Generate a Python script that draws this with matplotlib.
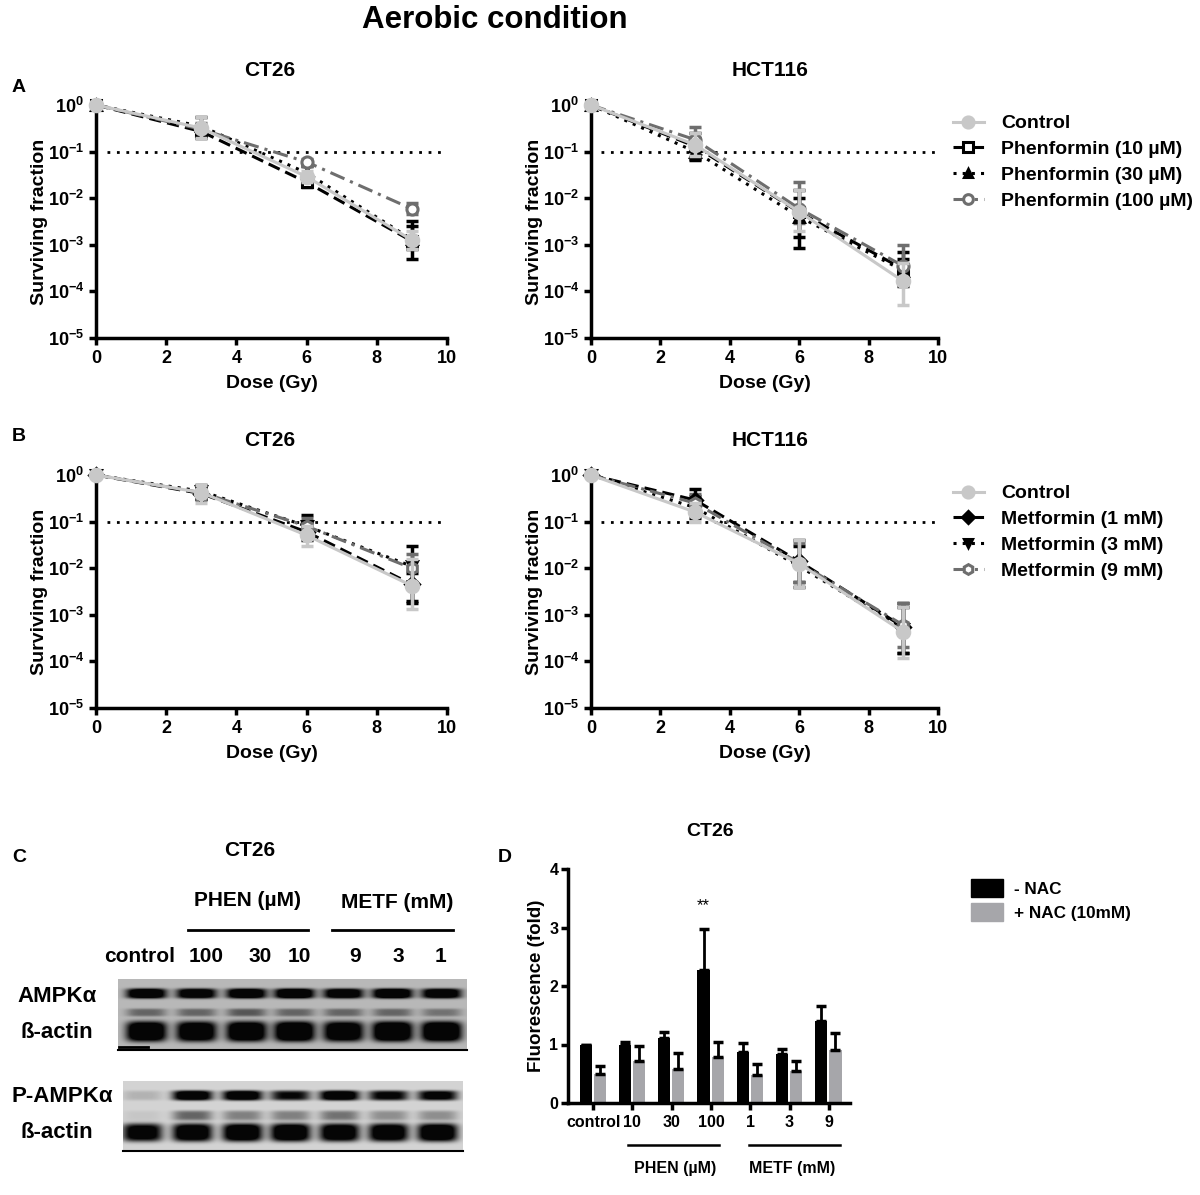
import numpy as np
import matplotlib
matplotlib.use("Agg")
import matplotlib.pyplot as plt
from matplotlib.lines import Line2D
from matplotlib.patches import Patch

plt.rcParams["font.family"] = ["Liberation Sans", "DejaVu Sans"]
plt.rcParams["font.weight"] = "bold"
plt.rcParams["axes.labelweight"] = "bold"
plt.rcParams["mathtext.fontset"] = "custom"
plt.rcParams["mathtext.rm"] = "Liberation Sans:bold"
plt.rcParams["mathtext.bf"] = "Liberation Sans:bold"
plt.rcParams["mathtext.default"] = "rm"

DOSE = [0, 3, 6, 9]

# surviving fraction: rows = control, 10, 30, 100 uM phenformin
CT26_PHEN_SF = [[1, 0.32, 0.029, 1.26e-3], [1, 0.27, 0.022, 1.2e-3],
                [1, 0.35, 0.035, 1.3e-3], [1, 0.30, 0.060, 5.9e-3]]
CT26_PHEN_LO = [[1, 0.20, 0.022, 8e-4], [1, 0.20, 0.017, 5e-4],
                [1, 0.25, 0.025, 8e-4], [1, 0.22, 0.050, 4.5e-3]]
CT26_PHEN_HI = [[1, 0.55, 0.038, 2e-3], [1, 0.35, 0.030, 3.2e-3],
                [1, 0.55, 0.050, 2.5e-3], [1, 0.42, 0.070, 8e-3]]

HCT_PHEN_SF = [[1, 0.14, 5.1e-3, 1.65e-4], [1, 0.13, 5e-3, 3.0e-4],
               [1, 0.10, 4e-3, 2.8e-4], [1, 0.18, 6e-3, 3.5e-4]]
HCT_PHEN_LO = [[1, 0.08, 2e-3, 5e-5], [1, 0.065, 8.5e-4, 1.3e-4],
               [1, 0.07, 1.5e-3, 1.5e-4], [1, 0.10, 3e-3, 2e-4]]
HCT_PHEN_HI = [[1, 0.25, 0.015, 4e-4], [1, 0.25, 0.015, 7e-4],
               [1, 0.20, 0.010, 5e-4], [1, 0.33, 0.022, 1e-3]]

# rows = control, 1, 3, 9 mM metformin
CT26_METF_SF = [[1, 0.42, 0.051, 4.2e-3], [1, 0.40, 0.060, 4.5e-3],
                [1, 0.45, 0.080, 0.011], [1, 0.42, 0.080, 0.010]]
CT26_METF_LO = [[1, 0.25, 0.030, 1.3e-3], [1, 0.30, 0.040, 2e-3],
                [1, 0.30, 0.050, 1.8e-3], [1, 0.30, 0.050, 5e-3]]
CT26_METF_HI = [[1, 0.60, 0.080, 0.016], [1, 0.55, 0.100, 8e-3],
                [1, 0.60, 0.140, 0.030], [1, 0.55, 0.120, 0.020]]

HCT_METF_SF = [[1, 0.16, 0.0126, 4.3e-4], [1, 0.29, 0.014, 5.5e-4],
               [1, 0.20, 0.011, 5e-4], [1, 0.25, 0.013, 6e-4]]
HCT_METF_LO = [[1, 0.10, 4e-3, 1.2e-4], [1, 0.15, 5e-3, 1.5e-4],
               [1, 0.12, 4e-3, 1.5e-4], [1, 0.15, 5e-3, 2e-4]]
HCT_METF_HI = [[1, 0.25, 0.040, 1.5e-3], [1, 0.50, 0.040, 1.8e-3],
               [1, 0.35, 0.030, 1.5e-3], [1, 0.40, 0.035, 1.8e-3]]

PHEN_LABELS = ["Control", "Phenformin (10 µM)", "Phenformin (30 µM)", "Phenformin (100 µM)"]
METF_LABELS = ["Control", "Metformin (1 mM)", "Metformin (3 mM)", "Metformin (9 mM)"]

# panel D
D_GROUPS = ["control", "10", "30", "100", "1", "3", "9"]
D_NO_NAC = [1.00, 0.99, 1.11, 2.27, 0.88, 0.84, 1.40]
D_NO_NAC_ERR = [0.00, 0.06, 0.11, 0.70, 0.15, 0.09, 0.25]
D_NAC = [0.49, 0.71, 0.58, 0.79, 0.48, 0.54, 0.90]
D_NAC_ERR = [0.15, 0.26, 0.27, 0.26, 0.19, 0.18, 0.30]

# panel C: lane labels and band intensities (0..1)
C_LANES = ["control", "100", "30", "10", "9", "3", "1"]
AMPK_BAND = [0.95, 0.90, 0.95, 1.00, 0.90, 1.00, 0.90]
AMPK_FAINT = [0.30, 0.30, 0.35, 0.30, 0.30, 0.30, 0.25]
ACTIN_1 = [1.00, 0.95, 1.00, 1.05, 0.95, 1.05, 1.05]
PAMPK_BAND = [0.12, 1.00, 1.00, 0.75, 1.00, 0.80, 0.85]
PAMPK_FAINT = [0.05, 0.40, 0.30, 0.30, 0.35, 0.25, 0.25]
ACTIN_2 = [0.90, 1.00, 1.05, 1.05, 1.00, 1.00, 1.05]

W, H = 1200, 1195
fig = plt.figure(figsize=(12, 11.95), dpi=100)


def fbox(left, top, right, bottom):
    return [left / W, 1 - bottom / H, (right - left) / W, (bottom - top) / H]


def ftext(x, y, s, **kw):
    fig.text(x / W, 1 - y / H, s, **kw)


STYLES = [
    dict(color="#c8c8c8", ls="-", marker="o", mfc="#c8c8c8", mec="#c8c8c8", ms=9),
    dict(color="black", ls=(0, (4, 2)), marker="s", mfc="white", mec="black", ms=7.5),
    dict(color="black", ls=(0, (1, 2)), marker="^", mfc="black", mec="black", ms=7),
    dict(color="#6e6e6e", ls=(0, (5, 2, 1, 2)), marker="o", mfc="white", mec="#6e6e6e", ms=8),
]
METF_MARKERS = ["o", "D", "v", "h"]


def series_style(i, markers):
    st = dict(STYLES[i])
    if markers is not None:
        st["marker"] = markers[i]
        if i == 1:
            st["mfc"] = "black"
    return st


def survival_axes(box, sf, lo, hi, markers=None):
    ax = fig.add_axes(box)
    ax.set_yscale("log")
    for i in [1, 2, 3, 0]:
        st = series_style(i, markers)
        y = np.array(sf[i])
        err = [y - np.array(lo[i]), np.array(hi[i]) - y]
        ax.errorbar(DOSE, y, yerr=err, fmt="none", ecolor=st["color"],
                    elinewidth=2.5, capsize=4, capthick=2.5, zorder=3 + (i == 0), clip_on=False)
        ax.plot(DOSE, y, color=st["color"], ls=st["ls"], lw=2.2, marker=st["marker"],
                mfc=st["mfc"], mec=st["mec"], mew=2.2, ms=st["ms"],
                zorder=4 + (i == 0), clip_on=False)
    ax.hlines(0.1, 0.3, 10, colors="black", linestyles=(0, (1, 2.4)), lw=2)
    ax.set_xlim(0, 10)
    ax.set_ylim(1e-5, 1)
    ax.set_xticks([0, 2, 4, 6, 8, 10])
    ticks = [1e-5, 1e-4, 1e-3, 1e-2, 1e-1, 1]
    ax.set_yticks(ticks)
    ax.set_yticklabels([r"$10^{%d}$" % int(np.log10(t)) for t in ticks])
    ax.minorticks_off()
    for side in ["top", "right"]:
        ax.spines[side].set_visible(False)
    for side in ["left", "bottom"]:
        ax.spines[side].set_linewidth(2.5)
    ax.tick_params(width=2.5, length=5, labelsize=13)
    ax.set_xlabel("Dose (Gy)", fontsize=14, labelpad=6)
    ax.set_ylabel("Surviving fraction", fontsize=14, labelpad=0)
    return ax


def survival_legend(labels, y0, markers=None):
    handles = []
    for i in range(4):
        st = series_style(i, markers)
        handles.append(Line2D([0], [0], color=st["color"], ls=st["ls"], lw=2.2,
                              marker=st["marker"], mfc=st["mfc"], mec=st["mec"],
                              mew=2.2, ms=st["ms"] - 1))
    fig.legend(handles, labels, loc="upper left", bbox_to_anchor=(945 / W, 1 - y0 / H),
               frameon=False, fontsize=14, handlelength=1.6, handletextpad=0.9,
               labelspacing=0.42, borderaxespad=0)


# title and panel A / B
ftext(495, 20, "Aerobic condition", fontsize=22.5, ha="center", va="center")
ftext(12, 88, "A", fontsize=14, ha="left", va="center")
ftext(12, 437, "B", fontsize=14, ha="left", va="center")
ftext(270, 70, "CT26", fontsize=15, ha="center", va="center")
ftext(770, 70, "HCT116", fontsize=15, ha="center", va="center")
ftext(270, 440, "CT26", fontsize=15, ha="center", va="center")
ftext(770, 440, "HCT116", fontsize=15, ha="center", va="center")

survival_axes(fbox(96, 105, 447, 338), CT26_PHEN_SF, CT26_PHEN_LO, CT26_PHEN_HI)
survival_axes(fbox(591, 105, 938, 338), HCT_PHEN_SF, HCT_PHEN_LO, HCT_PHEN_HI)
survival_axes(fbox(96, 475, 447, 708), CT26_METF_SF, CT26_METF_LO, CT26_METF_HI, METF_MARKERS)
survival_axes(fbox(591, 475, 938, 708), HCT_METF_SF, HCT_METF_LO, HCT_METF_HI, METF_MARKERS)
survival_legend(PHEN_LABELS, 107)
survival_legend(METF_LABELS, 477, METF_MARKERS)

# panel C: western blot
ftext(12, 857, "C", fontsize=14, ha="left", va="center")
ftext(250, 850, "CT26", fontsize=15, ha="center", va="center")
ftext(247, 900, "PHEN (µM)", fontsize=15, ha="center", va="center")
ftext(397, 902, "METF (mM)", fontsize=15, ha="center", va="center")
fig.add_artist(Line2D([188 / W, 308 / W], [1 - 930 / H] * 2, color="black", lw=2))
fig.add_artist(Line2D([332 / W, 453 / W], [1 - 930 / H] * 2, color="black", lw=2))
lane_x = [146, 196, 246, 294, 343, 392, 441]
label_x = [140, 206, 260, 299, 355, 398, 441]
for lx, lab in zip(label_x, C_LANES):
    ftext(lx, 957, lab, fontsize=15, ha="center", va="center")


def blot(left, top, right, bottom, bands, bg, shift):
    ax = fig.add_axes(fbox(left, top, right, bottom))
    hh, ww = bottom - top, right - left
    yy, xx = np.mgrid[0:hh, 0:ww]
    img = np.full((hh, ww), bg, dtype=float)
    for yc, half, vals in bands:
        for lx, v in zip(lane_x, vals):
            xc = lx + shift - left
            prof = np.exp(-(((xx - xc) / 20.0) ** 4)) * np.exp(-(((yy - yc) / half) ** 4))
            img -= v * 1.1 * prof
    img = np.clip(img, 0.02, 1)
    ax.imshow(img, cmap="gray", vmin=0, vmax=1, aspect="auto", interpolation="bilinear")
    ax.set_axis_off()
    fig.add_artist(Line2D([left / W, right / W], [1 - (bottom + 1) / H] * 2, color="black", lw=1.5))


blot(118, 979, 467, 1049, [(14, 5, AMPK_BAND), (33, 4, AMPK_FAINT), (52, 10, ACTIN_1)], 0.72, 0)
fig.add_artist(Line2D([119 / W, 148 / W], [1 - 1047 / H] * 2, color="black", lw=2))
blot(123, 1081, 463, 1150, [(14, 5, PAMPK_BAND), (34, 5, PAMPK_FAINT), (51, 9, ACTIN_2)], 0.83, -4)
ftext(57, 996, "AMPKα", fontsize=16, ha="center", va="center")
ftext(57, 1032, "ß-actin", fontsize=16, ha="center", va="center")
ftext(62, 1097, "P-AMPKα", fontsize=16, ha="center", va="center")
ftext(57, 1133, "ß-actin", fontsize=16, ha="center", va="center")

# panel D: fluorescence bars
ftext(505, 857, "D", fontsize=14, ha="center", va="center")
ftext(710, 832, "CT26", fontsize=14, ha="center", va="center")
axd = fig.add_axes(fbox(568, 869, 850, 1103))
xd = np.arange(len(D_GROUPS))
axd.bar(xd - 0.19, D_NO_NAC, width=0.31, color="black")
axd.bar(xd + 0.17, D_NAC, width=0.31, color="#a6a6aa")
axd.errorbar(xd - 0.19, D_NO_NAC, yerr=[np.zeros(7), D_NO_NAC_ERR], fmt="none",
             ecolor="black", elinewidth=2, capsize=3.5, capthick=2.5)
axd.errorbar(xd + 0.17, D_NAC, yerr=[np.zeros(7), D_NAC_ERR], fmt="none",
             ecolor="black", elinewidth=2, capsize=3.5, capthick=2.5)
axd.text(3 - 0.19, 3.38, "**", ha="center", va="center", fontsize=12, fontweight="normal")
axd.set_xlim(-0.64, 6.54)
axd.set_ylim(0, 4)
axd.set_yticks([0, 1, 2, 3, 4])
axd.set_xticks(xd)
axd.set_xticklabels(D_GROUPS)
for side in ["top", "right"]:
    axd.spines[side].set_visible(False)
for side in ["left", "bottom"]:
    axd.spines[side].set_linewidth(2.5)
axd.tick_params(width=2.5, length=5, labelsize=11.5)
axd.tick_params(axis="y", pad=2)
axd.set_ylabel("Fluorescence (fold)", fontsize=13.5, labelpad=3)
trans = axd.get_xaxis_transform()
axd.plot([0.89, 3.2], [-0.18, -0.18], color="black", lw=1.8, transform=trans, clip_on=False)
axd.plot([3.97, 6.28], [-0.18, -0.18], color="black", lw=1.8, transform=trans, clip_on=False)
axd.text(2.1, -0.28, "PHEN (µM)", transform=trans, ha="center", va="center", fontsize=11.5)
axd.text(5.06, -0.28, "METF (mM)", transform=trans, ha="center", va="center", fontsize=11.5)
fig.legend([Patch(color="black"), Patch(color="#a6a6aa")], ["- NAC", "+ NAC (10mM)"],
           loc="upper left", bbox_to_anchor=(964 / W, 1 - 872 / H), frameon=False,
           fontsize=12.3, handlelength=1.9, handleheight=1.3, handletextpad=0.6,
           labelspacing=0.3, borderaxespad=0)

fig.savefig("out.png", dpi=100)
